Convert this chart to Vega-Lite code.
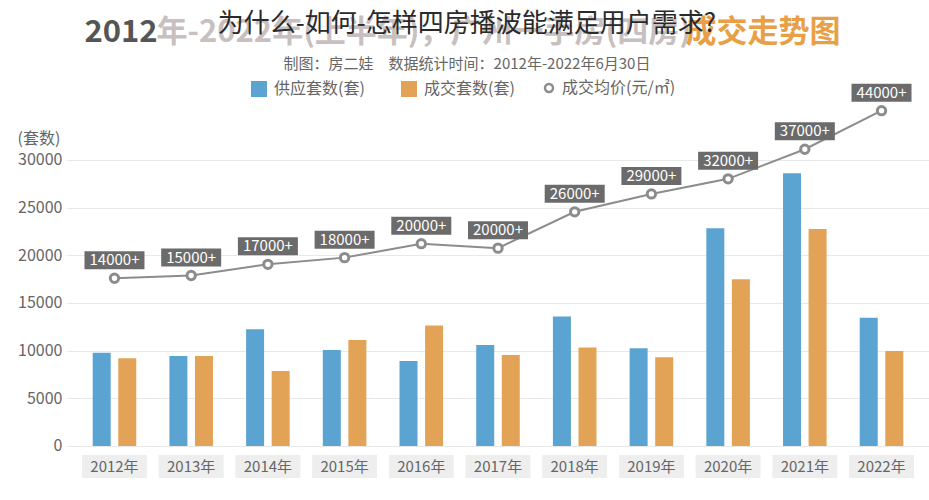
{
  "$schema": "https://vega.github.io/schema/vega-lite/v6.json",
  "width": 862,
  "height": 382,
  "autosize": "none",
  "padding": {"left": 67, "top": 98, "right": 0, "bottom": 20},
  "background": "white",
  "config": {"font": "Noto Sans CJK SC", "view": {"stroke": null}},
  "title": {
    "text": "为什么-如何-怎样四房播波能满足用户需求?",
    "subtitle": "制图：房二娃　数据统计时间：2012年-2022年6月30日",
    "fontSize": 26,
    "fontWeight": "normal",
    "color": "#2a2a2a",
    "subtitleFontSize": 15,
    "subtitleColor": "#666666",
    "subtitlePadding": 20,
    "anchor": "middle",
    "frame": "group",
    "dx": -31,
    "offset": -56
  },
  "datasets": {
    "counts": [
      {"year": "2012年", "series": "供应套数(套)", "value": 9790},
      {"year": "2012年", "series": "成交套数(套)", "value": 9200},
      {"year": "2013年", "series": "供应套数(套)", "value": 9440},
      {"year": "2013年", "series": "成交套数(套)", "value": 9440},
      {"year": "2014年", "series": "供应套数(套)", "value": 12240},
      {"year": "2014年", "series": "成交套数(套)", "value": 7870},
      {"year": "2015年", "series": "供应套数(套)", "value": 10070},
      {"year": "2015年", "series": "成交套数(套)", "value": 11120},
      {"year": "2016年", "series": "供应套数(套)", "value": 8920},
      {"year": "2016年", "series": "成交套数(套)", "value": 12630},
      {"year": "2017年", "series": "供应套数(套)", "value": 10600},
      {"year": "2017年", "series": "成交套数(套)", "value": 9550},
      {"year": "2018年", "series": "供应套数(套)", "value": 13570},
      {"year": "2018年", "series": "成交套数(套)", "value": 10320},
      {"year": "2019年", "series": "供应套数(套)", "value": 10250},
      {"year": "2019年", "series": "成交套数(套)", "value": 9300},
      {"year": "2020年", "series": "供应套数(套)", "value": 22840},
      {"year": "2020年", "series": "成交套数(套)", "value": 17490},
      {"year": "2021年", "series": "供应套数(套)", "value": 28610},
      {"year": "2021年", "series": "成交套数(套)", "value": 22770},
      {"year": "2022年", "series": "供应套数(套)", "value": 13460},
      {"year": "2022年", "series": "成交套数(套)", "value": 9970}
    ],
    "prices": [
      {"year": "2012年", "price": 14800, "label": "14000+"},
      {"year": "2013年", "price": 15300, "label": "15000+"},
      {"year": "2014年", "price": 17300, "label": "17000+"},
      {"year": "2015年", "price": 18500, "label": "18000+"},
      {"year": "2016年", "price": 21000, "label": "20000+"},
      {"year": "2017年", "price": 20200, "label": "20000+"},
      {"year": "2018年", "price": 26700, "label": "26000+"},
      {"year": "2019年", "price": 29900, "label": "29000+"},
      {"year": "2020年", "price": 32600, "label": "32000+"},
      {"year": "2021年", "price": 37900, "label": "37000+"},
      {"year": "2022年", "price": 44800, "label": "44000+"}
    ]
  },
  "layer": [
    {
      "layer": [
        {
          "data": {"name": "prices"},
          "mark": {"type": "bar", "color": "#eeeeee", "width": {"band": 0.94}},
          "encoding": {
            "x": {
              "field": "year", "type": "nominal",
              "scale": {"paddingInner": 0.1, "paddingOuter": 0.169},
              "axis": {
                "orient": "bottom", "labels": false, "ticks": false, "domain": false, "grid": false,
                "title": "2012", "titleX": 17, "titleY": -448, "titleAlign": "left", "titleAnchor": "start",
                "titleBaseline": "middle", "titleFontSize": 31, "titleFontWeight": "bold", "titleColor": "#555555"
              }
            },
            "y": {
              "datum": -950, "type": "quantitative",
              "scale": {"domain": [-3570, 36500], "nice": false, "zero": false},
              "axis": {
                "values": [0, 5000, 10000, 15000, 20000, 25000, 30000],
                "format": "d",
                "labelFontSize": 16, "labelColor": "#666666", "labelPadding": 5,
                "ticks": false, "tickSize": 0, "domain": false,
                "grid": true, "gridColor": "#e8e8e8", "gridWidth": 1,
                "title": "(套数)", "titleAngle": 0, "titleAlign": "left", "titleAnchor": "start",
                "titleX": -50, "titleY": 40, "titleBaseline": "middle",
                "titleFontSize": 16, "titleFontWeight": "normal", "titleColor": "#666666"
              }
            },
            "y2": {"datum": -3360}
          }
        },
        {
          "data": {"name": "prices"},
          "mark": {"type": "text", "fontSize": 15, "color": "#666666", "baseline": "middle"},
          "encoding": {
            "x": {"field": "year", "type": "nominal"},
            "y": {"datum": -2155, "type": "quantitative"},
            "text": {"field": "year"}
          }
        },
        {
          "data": {"name": "counts"},
          "mark": {"type": "bar", "width": 18},
          "encoding": {
            "x": {"field": "year", "type": "nominal"},
            "xOffset": {"field": "series", "sort": ["供应套数(套)", "成交套数(套)"], "scale": {"paddingInner": 0.3, "paddingOuter": 0.5}},
            "y": {"field": "value", "type": "quantitative"},
            "color": {
              "field": "series", "type": "nominal",
              "scale": {"domain": ["供应套数(套)", "成交套数(套)"], "range": ["#5ba4d1", "#e3a356"]},
              "legend": {
                "orient": "none", "legendX": 183, "legendY": -18, "direction": "horizontal",
                "title": null, "padding": 0,
                "symbolSize": 256, "symbolType": "square", "symbolOpacity": 1,
                "labelFontSize": 16, "labelColor": "#666666", "labelOffset": 6, "columnPadding": 35
              }
            }
          }
        }
      ]
    },
    {
      "data": {"name": "prices"},
      "encoding": {
        "x": {
          "field": "year", "type": "nominal",
          "axis": {
            "orient": "top", "labels": false, "ticks": false, "domain": false, "grid": false,
            "title": "年-2022年(上半年)，广州一手房(四房)", "titleX": 89, "titleY": -66, "titleAlign": "left", "titleAnchor": "start",
            "titleBaseline": "middle", "titleFontSize": 31, "titleFontWeight": "bold", "titleColor": "#c8c0c0"
          }
        },
        "y": {
          "field": "price", "type": "quantitative",
          "scale": {"domain": [-21300, 47070], "nice": false, "zero": false},
          "axis": {
            "orient": "right", "labels": false, "ticks": false, "domain": false, "grid": false,
            "title": "成交走势图", "titleAngle": 0, "titleX": -89, "titleY": -66, "titleAlign": "right", "titleAnchor": "end",
            "titleBaseline": "middle", "titleFontSize": 31, "titleFontWeight": "bold", "titleColor": "#e8a048"
          }
        }
      },
      "layer": [
        {
          "mark": {"type": "line", "strokeWidth": 2},
          "encoding": {
            "stroke": {
              "datum": "成交均价(元/㎡)",
              "scale": {"domain": ["成交均价(元/㎡)"], "range": ["#8c8c8c"]},
              "legend": {
                "orient": "none", "legendX": 474, "legendY": -18, "direction": "horizontal",
                "title": null, "padding": 0,
                "symbolType": "circle", "symbolSize": 64, "symbolFillColor": "#ffffff", "symbolStrokeWidth": 2.5,
                "symbolOpacity": 1,
                "labelFontSize": 16, "labelColor": "#666666", "labelOffset": 5
              }
            }
          }
        },
        {
          "mark": {"type": "point", "filled": true, "fill": "#ffffff", "stroke": "#8c8c8c", "strokeWidth": 3, "size": 70, "opacity": 1}
        },
        {
          "mark": {"type": "point", "shape": "M-1,-0.3H1V0.3H-1Z", "size": 3600, "filled": true, "fill": "#6b6b6b", "strokeWidth": 0, "opacity": 1, "yOffset": -18}
        },
        {
          "mark": {"type": "text", "color": "#ffffff", "fontSize": 15, "baseline": "middle", "yOffset": -18},
          "encoding": {"text": {"field": "label"}}
        }
      ]
    }
  ],
  "resolve": {"scale": {"y": "independent"}, "axis": {"x": "independent", "y": "independent"}}
}
